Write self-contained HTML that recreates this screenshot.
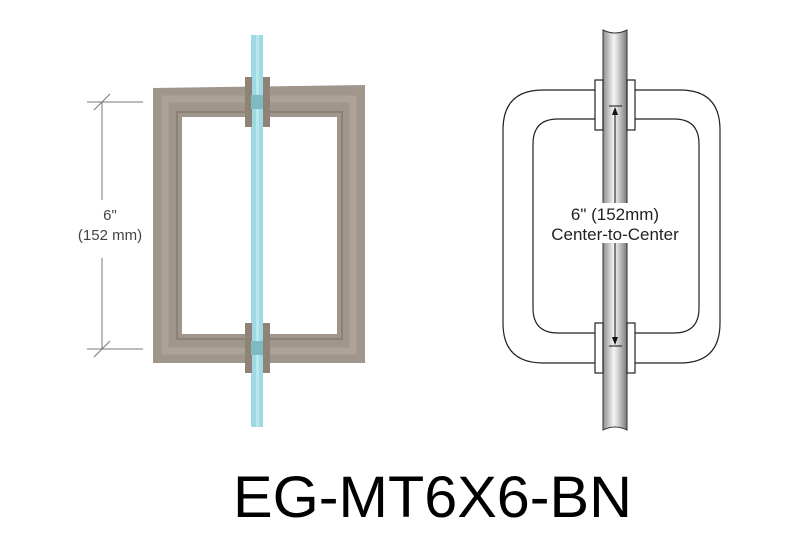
<!DOCTYPE html>
<html><head><style>html,body{margin:0;padding:0;background:#fff;}</style></head>
<body>
<svg width="800" height="550" viewBox="0 0 800 550" xmlns="http://www.w3.org/2000/svg" font-family="Liberation Sans, Arial, sans-serif">
<defs>
<linearGradient id="gl" x1="0" x2="1" y1="0" y2="0">
<stop offset="0" stop-color="#8e8e8e"/><stop offset="0.45" stop-color="#f4f4f4"/><stop offset="0.6" stop-color="#d8d8d8"/><stop offset="1" stop-color="#7a7a7a"/>
</linearGradient>
</defs>
<rect width="800" height="550" fill="#fff"/>
<g stroke="#777" stroke-width="1" fill="none">
<line x1="87" y1="102" x2="143" y2="102"/>
<line x1="87" y1="349" x2="143" y2="349"/>
<line x1="102" y1="102" x2="102" y2="200"/>
<line x1="102" y1="258" x2="102" y2="349"/>
<line x1="94" y1="110" x2="110" y2="94"/>
<line x1="94" y1="357" x2="110" y2="341"/>
</g>
<text x="110" y="220" font-size="15" text-anchor="middle" fill="#444">6"</text>
<text x="110" y="240" font-size="15" text-anchor="middle" fill="#444">(152 mm)</text>
<path d="M153 88 L365 85 L365 363 L153 363 Z M182 117 L182 334 L337 334 L337 117 Z" fill="#a0968b" fill-rule="evenodd"/>
<rect x="165" y="99" width="188" height="252" fill="none" stroke="#aca296" stroke-width="7"/>
<rect x="177" y="112" width="165" height="227" fill="none" stroke="#8c8176" stroke-width="2"/>
<rect x="251" y="35" width="12" height="392" fill="#9fd9e3"/>
<rect x="256" y="35" width="3" height="392" fill="#b9e7ee"/>
<g fill="#8f8378">
<rect x="245" y="77" width="7" height="50"/><rect x="263" y="77" width="7" height="50"/>
<rect x="245" y="323" width="7" height="50"/><rect x="263" y="323" width="7" height="50"/>
</g>
<rect x="251" y="95" width="12" height="14" fill="#7fb9c1"/>
<rect x="251" y="341" width="12" height="14" fill="#7fb9c1"/>
<g fill="none" stroke="#222" stroke-width="1.2">
<path d="M595 90 L543 90 Q503 90 503 130 L503 323 Q503 363 543 363 L595 363"/>
<path d="M635 90 L680 90 Q720 90 720 130 L720 323 Q720 363 680 363 L635 363"/>
<path d="M595 119 L558 119 Q533 119 533 144 L533 308 Q533 333 558 333 L595 333"/>
<path d="M635 119 L674 119 Q699 119 699 144 L699 308 Q699 333 674 333 L635 333"/>
</g>
<path d="M603 30 Q615 36 627 30 L627 430 Q615 424 603 430 Z" fill="url(#gl)" stroke="#333" stroke-width="1"/>
<g fill="#fff" stroke="#222" stroke-width="1.2">
<rect x="595" y="80" width="8" height="50"/><rect x="627" y="80" width="8" height="50"/>
<rect x="595" y="323" width="8" height="50"/><rect x="627" y="323" width="8" height="50"/>
</g>
<g stroke="#111" stroke-width="1">
<line x1="609" y1="106" x2="622" y2="106"/>
<line x1="609" y1="346" x2="622" y2="346"/>
<line x1="615" y1="112" x2="615" y2="340"/>
</g>
<path d="M615 107 L612 115 L618 115 Z M615 345 L612 337 L618 337 Z" fill="#111"/>
<rect x="550" y="203" width="130" height="40" fill="#fff"/>
<text x="615" y="220" font-size="17" text-anchor="middle" fill="#222">6" (152mm)</text>
<text x="615" y="240" font-size="17" text-anchor="middle" fill="#222">Center-to-Center</text>
<text x="233" y="517" font-size="58" textLength="399" lengthAdjust="spacingAndGlyphs" fill="#000">EG-MT6X6-BN</text>
</svg>
</body></html>
